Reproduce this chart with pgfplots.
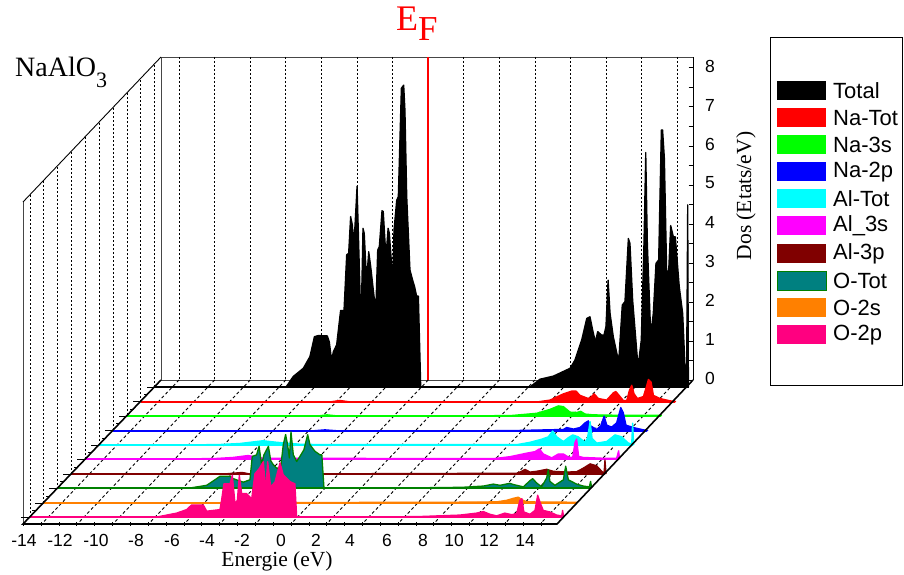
\documentclass[border=0pt]{standalone}
\usepackage{pgfplots}
\usepackage{pgfplotstable}
\usepackage{fontspec}
\pgfplotsset{compat=1.18}
\setmainfont{Liberation Serif}
\newfontfamily\arial{Liberation Sans}
\definecolor{cred}{RGB}{255,0,0}
\definecolor{cgreen}{RGB}{0,255,0}
\definecolor{cblue}{RGB}{0,0,255}
\definecolor{ccyan}{RGB}{0,255,255}
\definecolor{cmag}{RGB}{255,0,255}
\definecolor{cdred}{RGB}{128,0,0}
\definecolor{cteal}{RGB}{0,128,128}
\definecolor{colive}{RGB}{0,128,0}
\definecolor{corange}{RGB}{255,128,0}
\definecolor{cpink}{RGB}{255,0,128}
\definecolor{wallgray}{RGB}{70,70,70}

\pgfplotstableread{
E D
-14 0
15.8 0
}\tBase
\pgfplotstableread{
E D
-14 0
-6.69 0
-6.29 0.27
-5.73 0.48
-5.36 0.78
-5.11 1.29
-4.89 1.32
-4.39 1.31
-4.28 1.16
-4.15 0.69
-4.05 0.91
-3.87 1.08
-3.65 1.96
-3.46 1.96
-3.31 3.39
-3.20 3.43
-3.09 4.37
-2.99 4.15
-2.94 3.68
-2.85 4.11
-2.73 5.15
-2.62 3.34
-2.51 1.55
-2.40 4.07
-2.33 3.94
-2.20 2.73
-2.08 3.47
-1.97 3.09
-1.75 2.19
-1.67 2.23
-1.58 3.51
-1.49 3.60
-1.34 4.52
-1.27 4.50
-1.12 3.34
-1.00 4.07
-0.93 3.94
-0.74 2.74
-0.67 4.03
-0.52 4.79
-0.43 4.88
-0.26 7.66
-0.13 7.74
-0.06 7.10
0.04 4.88
0.22 3.00
0.37 2.74
0.48 2.57
0.59 2.33
0.69 2.33
0.82 0
6.91 0
7.47 0.20
8.22 0.28
9.15 0.48
9.42 0.69
9.80 1.21
10.08 1.76
10.26 1.80
10.41 1.46
10.56 1.16
10.69 1.42
10.91 1.33
11.04 1.33
11.15 1.55
11.27 2.74
11.38 1.89
11.56 1.29
11.86 0.65
12.06 2.10
12.21 2.19
12.40 3.81
12.49 3.68
12.64 2.23
12.94 0.52
13.12 1.20
13.27 3.68
13.37 6.01
13.46 3.68
13.65 1.33
13.79 1.89
13.94 3.17
14.09 3.26
14.24 6.59
14.31 6.59
14.41 5.86
14.54 2.87
14.65 3.00
14.76 4.14
14.91 3.85
15.02 3.85
15.24 2.57
15.43 1.89
15.56 0.52
15.65 0.52
15.71 4.67
15.75 0
}\tTotal
\pgfplotstableread{
E D
-14 0
-3.5 0
-2.9 0.04
-2.3 0
8.07 0
8.81 0.05
9.56 0.21
10.02 0.28
10.26 0.28
10.49 0.17
10.95 0.09
11.08 0.12
11.27 0.21
11.51 0.09
11.97 0.05
12.35 0.24
12.48 0.27
12.63 0.19
12.90 0.04
13.09 0.04
13.24 0.30
13.37 0.43
13.50 0.21
13.69 0.09
14.02 0.14
14.21 0.43
14.30 0.58
14.45 0.51
14.58 0.17
14.95 0.09
15.51 0.03
15.79 0.02
15.82 0
}\tNaTot
\pgfplotstableread{
E D
-14 0
-3.4 0
-2.85 0.03
-2.2 0
7.36 0.01
8.85 0.07
9.59 0.17
10.06 0.26
10.34 0.24
10.71 0.10
11.08 0.09
11.31 0.12
11.55 0.05
12.01 0.03
13.31 0.02
15.77 0.02
15.82 0
}\tNaS
\pgfplotstableread{
E D
-14 0
-3 0
-2.18 0.03
-1.3 0
8.14 0.01
11.12 0.04
11.30 0.09
11.68 0.05
12.05 0.09
12.33 0.21
12.51 0.26
12.64 0.13
12.98 0.04
13.20 0.13
13.39 0.38
13.54 0.15
13.81 0.10
14.09 0.21
14.32 0.60
14.46 0.47
14.61 0.15
15.02 0.09
15.58 0.03
15.80 0.02
15.82 0
}\tNaP
\pgfplotstableread{
E D
-14 0
-7.42 0.01
-6.14 0.04
-4.85 0.11
-4.07 0.07
-2.79 0.02
-1.28 0.01
9.30 0.01
10.04 0.07
10.69 0.15
11.06 0.21
11.30 0.36
11.53 0.21
11.90 0.09
12.18 0.19
12.42 0.26
12.73 0.21
13.11 0.07
13.24 0.17
13.39 0.60
13.50 0.17
13.76 0.05
14.31 0.09
14.78 0.26
15.15 0.21
15.52 0.05
15.71 0.03
15.76 0.56
15.82 0
}\tAlTot
\pgfplotstableread{
E D
-14 0
-6.86 0.01
-5.75 0.04
-4.91 0.09
-4.07 0.02
8.77 0.01
9.70 0.06
10.63 0.15
11.10 0.19
11.34 0.26
11.56 0.13
12.03 0.03
12.40 0.13
12.68 0.13
12.96 0.05
13.20 0.04
13.33 0.43
13.42 0.51
13.53 0.07
13.79 0.04
14.91 0.02
15.65 0.02
15.76 0.21
15.82 0
}\tAlS
\pgfplotstableread{
E D
-14 0
-5.5 0
-4.46 0.04
-4 0
10.86 0.02
11.13 0.07
11.32 0.12
11.60 0.05
11.97 0.07
12.53 0.12
12.90 0.07
13.64 0.05
14.20 0.06
14.57 0.15
14.95 0.26
15.32 0.21
15.60 0.07
15.73 0.02
15.78 0.36
15.84 0
}\tAlP
\pgfplotstableread{
E D
-14 0
-6.58 0
-5.65 0.07
-5.10 0.24
-4.91 0.30
-4.35 0.30
-4.17 0.24
-3.61 0.15
-3.24 0.21
-3.11 0.81
-2.87 0.85
-2.73 1.07
-2.59 0.60
-2.46 0.85
-2.21 1.07
-2.08 0.70
-1.94 0.60
-1.75 0.51
-1.53 0.51
-1.38 1.11
-1.25 1.37
-1.14 1.11
-1.04 0.77
-0.95 1.44
-0.82 0.85
-0.63 0.68
-0.45 0.81
-0.23 0.98
-0.02 1.37
0.11 1.11
0.39 0.94
0.67 0.85
0.77 0.85
0.89 0
7.36 0.01
8.66 0.02
9.78 0.05
10.33 0.10
10.71 0.07
11.26 0.12
11.45 0.09
12.01 0.03
12.38 0.19
12.53 0.24
12.75 0.13
13.03 0.03
13.31 0.26
13.40 0.47
13.49 0.17
13.77 0.07
14.24 0.21
14.37 0.56
14.52 0.21
14.98 0.10
15.35 0.05
15.69 0.03
15.76 0.17
15.82 0
}\tOTot
\pgfplotstableread{
E D
-14 0
8.70 0.02
11.30 0.03
11.86 0.07
12.23 0.12
12.51 0.15
12.69 0.09
12.97 0.03
15.76 0.02
15.82 0
}\tOS
\pgfplotstableread{
E D
-14 0
-6.88 0
-5.77 0.10
-5.21 0.19
-4.93 0.31
-4.28 0.31
-4.09 0.15
-3.35 0.19
-3.26 0.43
-3.13 0.85
-2.98 0.85
-2.79 0.85
-2.66 1.07
-2.51 0.34
-2.38 0.43
-2.27 1.07
-2.14 0.60
-1.86 0.60
-1.58 0.47
-1.40 1.11
-1.16 1.24
-0.93 1.42
-0.80 0.68
-0.69 1.42
-0.52 0.77
-0.28 0.90
0 1.39
0.18 1.08
0.55 0.91
0.83 0.85
0.93 0
7.62 0.01
10.03 0.05
10.96 0.10
11.34 0.14
11.71 0.07
12.08 0.03
12.54 0.10
12.92 0.06
13.20 0.09
13.38 0.43
13.49 0.47
13.60 0.13
13.94 0.07
14.22 0.17
14.37 0.56
14.53 0.34
14.68 0.17
15.05 0.13
15.43 0.05
15.71 0.03
15.76 0.17
15.82 0
}\tOP

% #1 table, #2 front-left x of the series, #3 baseline y, #4 fill, #5 outline
\newcommand\dosplot[5]{%
  \addplot[fill=#4,draw=#5,line width=1.3pt,line join=round,mark=none]
  table[x expr=\thisrow{E}*17.93+#2+251.02,y expr=#3-\thisrow{D}*39]{#1};
  \addplot[draw=#5,line width=2.2pt,mark=none]
  table[x expr=\thisrow{E}*17.93+#2+251.02,y expr=#3-\thisrow{D}*39]{\tBase};}
\newcommand\lgd[3]{%
  \fill[#2] (axis cs:777,#1) rectangle (axis cs:826,{#1+19});
  \node[anchor=west,inner sep=0pt,font=\arial\fontsize{22}{22}\selectfont] at (axis cs:833,{#1+10}) {#3};}

\begin{document}
\begin{tikzpicture}
\path (0,0) rectangle (904pt,575pt);
\begin{axis}[at={(0,0)},anchor=south west,scale only axis,width=904pt,height=575pt,
  xmin=0,xmax=904,ymin=0,ymax=575,y dir=reverse,axis lines=none,clip=false]
% back wall
\draw[wallgray,line width=0.9pt] (axis cs:161,380) -- (axis cs:161,57) -- (axis cs:693,57);
\draw[wallgray,line width=0.9pt] (axis cs:161,380) -- (axis cs:693,380);
\draw[black,line width=1pt] (axis cs:693,380) -- (axis cs:693,57);
% left wall
\draw[wallgray,line width=1pt] (axis cs:23,524) -- (axis cs:23,202);
\draw[black,line width=0.9pt] (axis cs:23,202) -- (axis cs:161,57);
\pgfplotsinvokeforeach{30,43,57,71,85,99,113,127,140,154}{
  \draw[black,line width=0.9pt,dash pattern=on 2pt off 2pt] (axis cs:#1,{524-(#1-23)*1.0435}) -- (axis cs:#1,{202-(#1-23)*1.0507});
}
% grid on back wall and floor
\pgfplotsinvokeforeach{0,...,14}{
  \ifnum#1=7\relax\else
  \draw[black,line width=0.9pt,dash pattern=on 2pt off 2pt] (axis cs:{179+35.6*#1},57) -- (axis cs:{179+35.6*#1},380);
  \fi
  \draw[black,line width=0.9pt,dash pattern=on 3pt off 2.5pt] (axis cs:{179+35.6*#1},380) -- (axis cs:{41.7+35.6*#1},524);
}
\draw[red,line width=2pt] (axis cs:428,57) -- (axis cs:428,380);
% series
\dosplot{\tTotal}{155}{387}{black}{black}
\dosplot{\tNaTot}{141}{402}{cred}{cred}
\dosplot{\tNaS}{127}{416}{cgreen}{cgreen}
\dosplot{\tNaP}{113}{431}{cblue}{cblue}
\dosplot{\tAlTot}{99}{445}{ccyan}{ccyan}
\dosplot{\tAlS}{85}{459}{cmag}{cmag}
\dosplot{\tAlP}{71}{474}{cdred}{cdred}
\dosplot{\tOTot}{57}{488}{cteal}{colive}
\dosplot{\tOS}{43}{503}{corange}{corange}
\dosplot{\tOP}{29}{517}{cpink}{cpink}
% floor frame
\draw[black,line width=1.6pt] (axis cs:161,380) -- (axis cs:23,524) -- (axis cs:557,524) -- (axis cs:693,380);
% x ticks
\pgfplotsinvokeforeach{0,...,29}{
  \draw[black,line width=0.8pt] (axis cs:{23.3+17.85*#1},522) -- (axis cs:{23.3+17.85*#1},526);
}
% depth ticks
\pgfplotsinvokeforeach{29,43,57,71,85,99,113,127,141,155}{
  \draw[black,line width=1pt] (axis cs:{#1-8},{524-(#1-23)*1.036}) -- (axis cs:#1,{524-(#1-23)*1.036});
}
\pgfplotsinvokeforeach{36,50,64,78,92,106,120,134,148}{
  \draw[black,line width=1pt] (axis cs:{#1-4},{524-(#1-23)*1.036}) -- (axis cs:#1,{524-(#1-23)*1.036});
}
% right axis ticks
\pgfplotsinvokeforeach{0,...,16}{
  \draw[black,line width=1pt] (axis cs:688.5,{380-19.5*#1}) -- (axis cs:693,{380-19.5*#1});
}
% labels
\newcommand\xl[2]{\node[inner sep=0pt,font=\arial\fontsize{17.5}{17.5}\selectfont] at (axis cs:#1,540) {#2};}
\xl{24}{-14}\xl{60}{-12}\xl{96}{-10}\xl{136}{-8}\xl{172}{-6}\xl{207}{-4}\xl{242}{-2}\xl{281}{0}\xl{316}{2}\xl{350}{4}\xl{387}{6}\xl{423}{8}\xl{454}{10}\xl{489}{12}\xl{525}{14}
\newcommand\yl[2]{\node[inner sep=0pt,font=\arial\fontsize{17.5}{17.5}\selectfont] at (axis cs:710,#1) {#2};}
\yl{378}{0}\yl{339}{1}\yl{300}{2}\yl{261}{3}\yl{222}{4}\yl{183}{5}\yl{144}{6}\yl{105}{7}\yl{66}{8}
\node[inner sep=0pt,font=\fontsize{21.5}{21.5}\selectfont] at (axis cs:277,561) {Energie (eV)};
\node[inner sep=0pt,rotate=90,font=\fontsize{21.5}{21.5}\selectfont] at (axis cs:746,196) {Dos (Etats/eV)};
\node[anchor=base west,inner sep=0pt,font=\fontsize{28}{28}\selectfont] at (axis cs:15,77) {NaAlO\raisebox{-11pt}{\fontsize{22}{22}\selectfont 3}};
\node[anchor=base west,inner sep=0pt,text=red,font=\fontsize{36}{36}\selectfont] at (axis cs:396,31) {E\raisebox{-10pt}{\fontsize{35}{35}\selectfont F}};
% legend
\draw[black,line width=1pt] (axis cs:770,38) rectangle (axis cs:902,385);
\lgd{81}{black}{Total}
\lgd{108}{cred}{Na-Tot}
\lgd{135}{cgreen}{Na-3s}
\lgd{162}{cblue}{Na-2p}
\lgd{189}{ccyan}{Al-Tot}
\lgd{216}{cmag}{Al\_3s}
\lgd{244}{cdred}{Al-3p}
\lgd{271}{cteal}{O-Tot}
\draw[colive,line width=0.8pt] (axis cs:777,271) rectangle (axis cs:826,290);
\lgd{298}{corange}{O-2s}
\lgd{325}{cpink}{O-2p}
\end{axis}
\end{tikzpicture}
\end{document}
